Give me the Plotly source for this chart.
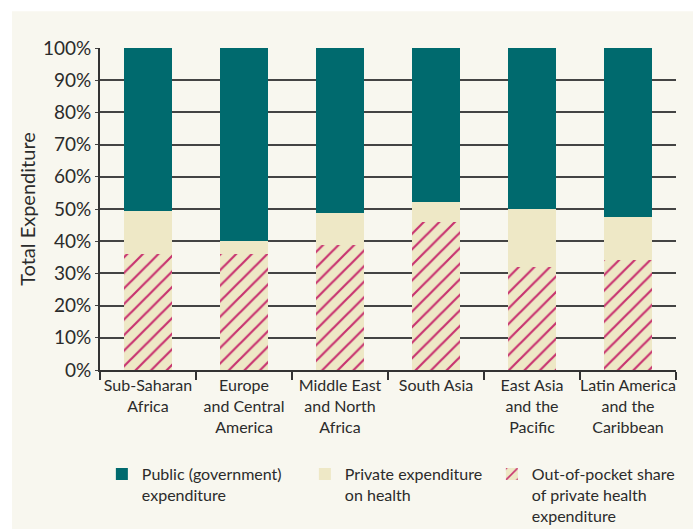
import plotly.graph_objects as go

regions = ["Sub-Saharan<br>Africa", "Europe<br>and Central<br>America", "Middle East<br>and North<br>Africa",
           "South Asia", "East Asia<br>and the<br>Pacific", "Latin America<br>and the<br>Caribbean"]
public_share = [50.6, 60.0, 51.2, 47.7, 50.0, 52.5]
private_share = [49.4, 40.0, 48.8, 52.3, 50.0, 47.5]
out_of_pocket = [36.0, 36.0, 38.8, 46.0, 32.0, 34.3]

private_rest = [p - o for p, o in zip(private_share, out_of_pocket)]

TEAL = "#006A6E"
CREAM = "#EEE8C6"
PINK = "#C8336F"
BG = "#F8F7EF"
TXT = "#2b2b2b"
FONT = "Lato"

fig = go.Figure()
fig.add_trace(go.Bar(
    x=regions, y=out_of_pocket, name="Out-of-pocket share<br>of private health<br>expenditure",
    marker=dict(color=CREAM, line=dict(width=0),
                pattern=dict(shape="/", fgcolor=PINK, fgopacity=1, bgcolor=CREAM, size=11, solidity=0.2)),
    legendrank=3, legendwidth=138, width=0.49))
fig.add_trace(go.Bar(
    x=regions, y=private_rest, name="Private expenditure<br>on health",
    marker=dict(color=CREAM, line=dict(width=0)), legendrank=2, legendwidth=142, width=0.49))
fig.add_trace(go.Bar(
    x=regions, y=public_share, name="Public (government)<br>expenditure",
    marker=dict(color=TEAL, line=dict(width=0)), legendrank=1, legendwidth=158, width=0.49))

fig.add_shape(type="rect", xref="paper", yref="paper", x0=-0.1528, x1=1.04, y0=-0.50, y1=1.1139,
              fillcolor=BG, line=dict(width=0), layer="below")

fig.update_layout(
    width=693, height=529,
    barmode="stack",
    paper_bgcolor="white", plot_bgcolor="rgba(0,0,0,0)",
    margin=dict(l=100, r=17, t=48, b=159),
    font=dict(family=FONT, color=TXT, size=16),
    showlegend=True,
    legend=dict(orientation="h", xref="container", yref="container", x=0.147, y=0.136,
                xanchor="left", yanchor="top",
                font=dict(size=16, family=FONT, color=TXT),
                traceorder="normal", bgcolor="rgba(0,0,0,0)", itemwidth=30, valign="top"),
)
fig.update_xaxes(
    showline=True, linecolor="#333", linewidth=2,
    ticks="outside", tickson="boundaries", ticklen=8, tickcolor="#333", tickwidth=1.5,
    tickangle=0,
    tickfont=dict(size=16, family=FONT, color=TXT), showgrid=False,
)
fig.update_yaxes(
    range=[0, 100], dtick=10, ticksuffix="%",
    showline=True, linecolor="#333", linewidth=2,
    showgrid=True, gridcolor="#444", gridwidth=1.6,
    ticks="outside", ticklen=3, tickcolor="#444",
    tickfont=dict(size=19, family=FONT, color=TXT),
    title=dict(text="Total Expenditure", font=dict(size=20, family=FONT, color=TXT), standoff=2),
    zeroline=False,
)
fig.write_html("out.html")
